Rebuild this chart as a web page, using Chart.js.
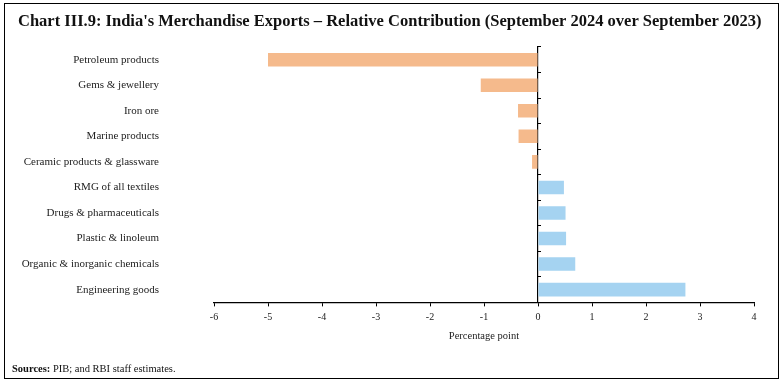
<!DOCTYPE html>
<html>
<head>
<meta charset="utf-8">
<script src="https://cdn.jsdelivr.net/npm/chart.js@4.4.1/dist/chart.umd.min.js"></script>
<style>
  body { margin: 0; background: #fff; }
  #wrap { position: relative; width: 784px; height: 387px; }
  #frame { position: absolute; left: 4px; top: 3px; width: 773px; height: 374px; border: 1.5px solid #000; }
  #mychart { position: absolute; left: 0; top: 0; }
  #src { position: absolute; left: 12px; top: 363px; font: 10.5px "Liberation Serif", serif; color: #111; }
</style>
</head>
<body>
<div id="wrap">
  <div id="frame"></div>
  <canvas id="mychart" width="784" height="387"></canvas>
  <div id="src"><b>Sources:</b> PIB; and RBI staff estimates.</div>
</div>
<script>
const categories = [
    'Petroleum products',
    'Gems & jewellery',
    'Iron ore',
    'Marine products',
    'Ceramic products & glassware',
    'RMG of all textiles',
    'Drugs & pharmaceuticals',
    'Plastic & linoleum',
    'Organic & inorganic chemicals',
    'Engineering goods'
];
const contribution = [-5.0, -1.06, -0.37, -0.36, -0.11, 0.48, 0.51, 0.52, 0.69, 2.73];
const xTicks = [-6, -5, -4, -3, -2, -1, 0, 1, 2, 3, 4];

const serif = "'Liberation Serif', 'Times New Roman', serif";

const ctx = document.getElementById('mychart');
const myChart = new Chart(ctx, {
    type: 'bar',
    data: {
        labels: categories,
        datasets: [{
            data: contribution,
            backgroundColor: (c) => c.raw < 0 ? '#F5BA8C' : '#A5D3F1',
            barPercentage: 0.53,
            categoryPercentage: 1,
            yAxisID: 'y'
        }]
    },
    options: {
        indexAxis: 'y',
        responsive: false,
        animation: false,
        events: [],
        layout: {
            padding: { left: 18, right: 0, top: 0, bottom: 44 }
        },
        scales: {
            x: {
                min: xTicks[0],
                max: xTicks[xTicks.length - 1],
                afterBuildTicks: (scale) => {
                    scale.ticks = xTicks.map(v => ({ value: v }));
                },
                border: { display: true, color: '#000', width: 1.2 },
                grid: {
                    drawOnChartArea: false,
                    drawTicks: true,
                    tickLength: 4,
                    color: '#000'
                },
                ticks: {
                    padding: 5,
                    color: '#222',
                    font: { family: serif, size: 10 }
                },
                title: {
                    display: true,
                    text: 'Percentage point',
                    color: '#222',
                    font: { family: serif, size: 10.5 },
                    padding: { top: 2, bottom: 0 }
                }
            },
            y: {
                position: 'left',
                afterFit: (scale) => {
                    scale.width = 196;
                    // label gap is wide, don't let it push the chart area
                    scale.paddingTop = 0;
                    scale.paddingBottom = 0;
                },
                border: { display: false },
                grid: { display: false, drawTicks: false },
                ticks: {
                    padding: 55,
                    color: '#222',
                    font: { family: serif, size: 11 }
                }
            },
            // empty right axis, only to keep a margin on the right without squeezing the title
            yR: {
                type: 'category',
                labels: categories,
                position: 'right',
                afterFit: (scale) => {
                    scale.width = 30;
                    scale.paddingTop = 0;
                    scale.paddingBottom = 0;
                },
                border: { display: false },
                grid: { display: false, drawTicks: false },
                ticks: { display: false }
            },
            y2: {
                type: 'category',
                labels: categories,
                position: { x: 0 },
                offset: true,
                border: { display: true, color: '#000', width: 1.2 },
                grid: {
                    offset: true,
                    drawOnChartArea: false,
                    drawTicks: true,
                    tickLength: -4,
                    color: '#000'
                },
                ticks: { display: false }
            }
        },
        plugins: {
            legend: { display: false },
            tooltip: { enabled: false },
            title: {
                display: true,
                align: 'start',
                text: "Chart III.9: India's Merchandise Exports \u2013 Relative Contribution (September 2024 over September 2023)",
                color: '#111',
                font: { family: serif, size: 16.5, weight: 'bold' },
                padding: { top: 11.5, bottom: 15.6 }
            }
        }
    }
});
</script>
</body>
</html>
